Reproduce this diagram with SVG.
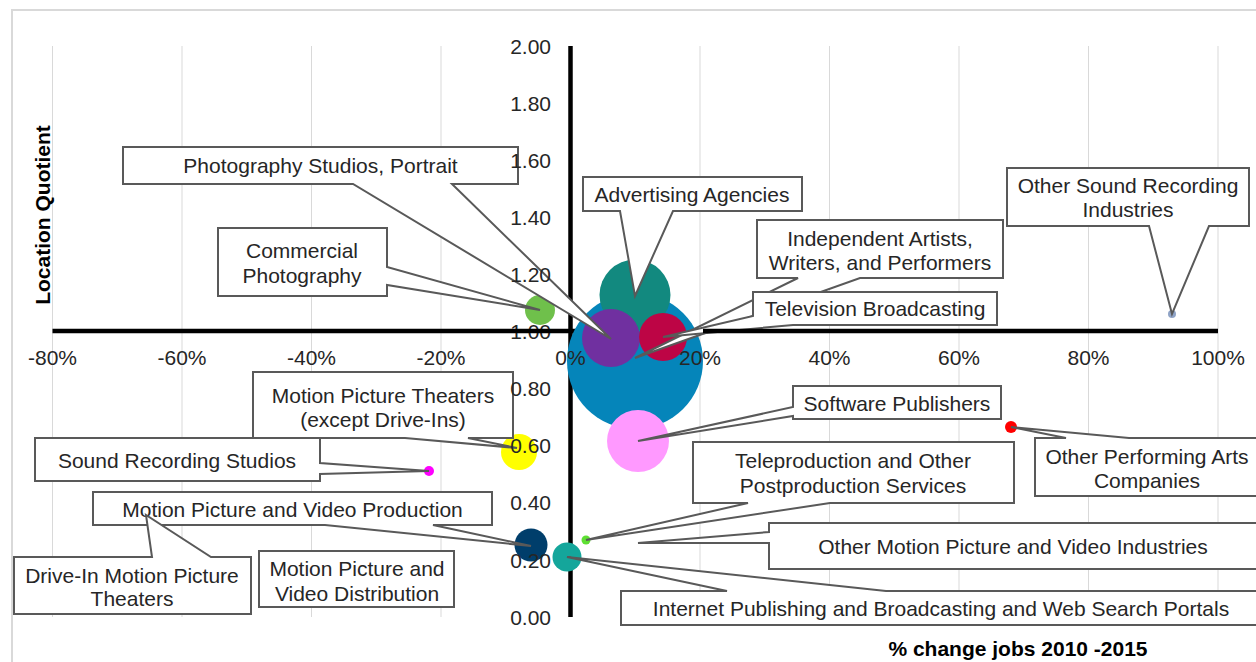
<svg xmlns="http://www.w3.org/2000/svg" width="1256" height="662" viewBox="0 0 1256 662">
  <style>
    text { font-family: "Liberation Sans", Arial, sans-serif; font-size: 21px; fill: #262626; }
    .tick-y { text-anchor: end; }
    .tick-x { text-anchor: middle; }
    .title { font-weight: bold; text-anchor: middle; fill: #000; }
    .grid { stroke: #d9d9d9; stroke-width: 1; }
    .axis { stroke: #000; stroke-width: 4.5; }
    .callout polygon { fill: #fff; stroke: #595959; stroke-width: 2; stroke-linejoin: miter; }
    .callout text { text-anchor: middle; }
  </style>

  <!-- chart area -->
  <rect x="0" y="0" width="1256" height="662" fill="#fff"/>
  <rect x="12" y="10" width="1260" height="670" fill="#fff" stroke="#d9d9d9" stroke-width="2"/>

  <!-- vertical gridlines, every 20% -->
  <g id="gridlines">
    <line class="grid" x1="52.5" y1="46" x2="52.5" y2="617"/>
    <line class="grid" x1="182" y1="46" x2="182" y2="617"/>
    <line class="grid" x1="311.5" y1="46" x2="311.5" y2="617"/>
    <line class="grid" x1="441" y1="46" x2="441" y2="617"/>
    <line class="grid" x1="700" y1="46" x2="700" y2="617"/>
    <line class="grid" x1="829.5" y1="46" x2="829.5" y2="617"/>
    <line class="grid" x1="959" y1="46" x2="959" y2="617"/>
    <line class="grid" x1="1088.5" y1="46" x2="1088.5" y2="617"/>
    <line class="grid" x1="1218" y1="46" x2="1218" y2="617"/>
  </g>

  <!-- axes crossing at 0% / 1.00; the middle stretch of the x axis sits under the bubble cluster -->
  <g id="axes-under">
    <line class="axis" x1="570.5" y1="46" x2="570.5" y2="617"/>
    <line class="axis" x1="567" y1="331" x2="703" y2="331"/>
  </g>

  <!-- bubbles -->
  <g id="bubbles">
    <circle id="b-other-sound" cx="1172" cy="314" r="4" fill="#8fa3c6"/>
    <circle id="b-blue" cx="635" cy="361" r="68" fill="#0585ba"/>
    <circle id="b-advertising" cx="635" cy="295" r="35.5" fill="#12897f"/>
    <circle id="b-photo-portrait" cx="611" cy="338" r="29" fill="#7030a0"/>
    <circle id="b-tv" cx="663" cy="337" r="24" fill="#bd0545"/>
    <circle id="b-commercial" cx="540" cy="310" r="15" fill="#6fc04b"/>
    <circle id="b-software" cx="638" cy="441" r="31" fill="#ff99ff"/>
    <circle id="b-theaters" cx="519" cy="452" r="18" fill="#ffff00"/>
    <circle id="b-sound-studios" cx="429" cy="471" r="5" fill="#ff00ff"/>
    <circle id="b-production" cx="531" cy="545" r="16.5" fill="#003e6b"/>
    <circle id="b-internet" cx="567" cy="557" r="14.5" fill="#14a69b"/>
    <circle id="b-teleproduction" cx="586" cy="540" r="4.5" fill="#5ee033"/>
    <circle id="b-performing" cx="1011" cy="427" r="6" fill="#ff0000"/>
  </g>

  <g id="x-ticks">
    <text class="tick-x" x="52.5" y="364.5">-80%</text>
    <text class="tick-x" x="182" y="364.5">-60%</text>
    <text class="tick-x" x="311.5" y="364.5">-40%</text>
    <text class="tick-x" x="441" y="364.5">-20%</text>
    <text class="tick-x" x="570.5" y="364.5">0%</text>
    <text class="tick-x" x="700" y="364.5">20%</text>
    <text class="tick-x" x="829.5" y="364.5">40%</text>
    <text class="tick-x" x="959" y="364.5">60%</text>
    <text class="tick-x" x="1088.5" y="364.5">80%</text>
    <text class="tick-x" x="1218" y="364.5">100%</text>
  </g>

  <!-- axis titles -->
  <text class="title" x="1018" y="655.5">% change jobs 2010 -2015</text>
  <text class="title" transform="translate(49.5,215) rotate(-90)" x="0" y="0">Location Quotient</text>

  <!-- data callouts -->
  <g id="callouts">
    <g id="c-photo-portrait" class="callout">
      <polygon points="123,147 518,147 518,184 452,184 611,339 353,184 123,184"/>
      <text x="320.5" y="173">Photography Studios, Portrait</text>
    </g>
    <g id="c-commercial" class="callout">
      <polygon points="218,228 387,228 387,267 540,310 387,285 387,296 218,296"/>
      <text x="302" y="257.5">Commercial</text>
      <text x="302" y="282.5">Photography</text>
    </g>
    <g id="c-advertising" class="callout">
      <polygon points="583,177 802,177 802,211 673,211 635,296 620,211 583,211"/>
      <text x="692" y="201.5">Advertising Agencies</text>
    </g>
    <g id="c-independent" class="callout">
      <polygon points="757,220 1003,220 1003,278 860,278 635,358 798,278 757,278"/>
      <text x="880" y="245.5">Independent Artists,</text>
      <text x="880" y="269.5">Writers, and Performers</text>
    </g>
    <g id="c-tv" class="callout">
      <polygon points="753,292 997,292 997,325 793,325 663,337 753,316"/>
      <text x="875" y="315.5">Television Broadcasting</text>
    </g>
    <g id="c-other-sound" class="callout">
      <polygon points="1007,168 1249,168 1249,226 1209,226 1172,314 1149,226 1007,226"/>
      <text x="1128" y="192.5">Other Sound Recording</text>
      <text x="1128" y="216.5">Industries</text>
    </g>
    <g id="c-theaters" class="callout">
      <polygon points="253,372 513,372 513,438 468,438 517,448 405,438 253,438"/>
      <text x="383" y="402.5">Motion Picture Theaters</text>
      <text x="383" y="426.5">(except Drive-Ins)</text>
    </g>
    <g id="c-sound-studios" class="callout">
      <polygon points="35,438 320,438 320,463 429,471 320,474 320,481 35,481"/>
      <text x="177" y="467.5">Sound Recording Studios</text>
    </g>
    <g id="c-production" class="callout">
      <polygon points="93,492 492,492 492,525 433,525 531,546 325,525 93,525"/>
      <text x="292.5" y="516.5">Motion Picture and Video Production</text>
    </g>
    <g id="c-distribution" class="callout">
      <polygon points="259,551 454,551 454,607 259,607"/>
      <text x="357" y="575.5">Motion Picture and</text>
      <text x="357" y="600.5">Video Distribution</text>
    </g>
    <g id="c-drive-in" class="callout">
      <polygon points="14,557 152,557 146,515 211,557 251,557 251,614 14,614"/>
      <text x="132" y="582.5">Drive-In Motion Picture</text>
      <text x="132" y="605.5">Theaters</text>
    </g>
    <g id="c-software" class="callout">
      <polygon points="793,386 1001,386 1001,419 793,419 793,416 638,441 793,407"/>
      <text x="897" y="410.5">Software Publishers</text>
    </g>
    <g id="c-teleproduction" class="callout">
      <polygon points="693,442 1014,442 1014,503 830,503 586,540 748,503 693,503"/>
      <text x="853" y="467.5">Teleproduction and Other</text>
      <text x="853" y="492.5">Postproduction Services</text>
    </g>
    <g id="c-other-motion" class="callout">
      <polygon points="769,523 1262,523 1262,569 769,569 769,543 638,543 769,532"/>
      <text x="1013" y="553.5">Other Motion Picture and Video Industries</text>
    </g>
    <g id="c-internet" class="callout">
      <polygon points="621,591 727,591 567,557 886,591 1262,591 1262,625 621,625"/>
      <text x="941" y="615.5">Internet Publishing and Broadcasting and Web Search Portals</text>
    </g>
    <g id="c-performing" class="callout">
      <polygon points="1035,438 1066,438 1011,427 1129,438 1262,438 1262,496 1035,496"/>
      <text x="1147" y="463.5">Other Performing Arts</text>
      <text x="1147" y="487.5">Companies</text>
    </g>
  </g>

  <!-- value axis labels sit above the callouts -->
  <g id="y-ticks">
    <text class="tick-y" x="551" y="53.5">2.00</text>
    <text class="tick-y" x="551" y="110.5">1.80</text>
    <text class="tick-y" x="551" y="167.5">1.60</text>
    <text class="tick-y" x="551" y="224.5">1.40</text>
    <text class="tick-y" x="551" y="281.5">1.20</text>
    <text class="tick-y" x="551" y="339">1.00</text>
    <text class="tick-y" x="551" y="396">0.80</text>
    <text class="tick-y" x="551" y="453">0.60</text>
    <text class="tick-y" x="551" y="510">0.40</text>
    <text class="tick-y" x="551" y="567.5">0.20</text>
    <text class="tick-y" x="551" y="624.5">0.00</text>
  </g>

  <!-- outer stretches of the x axis, drawn across the 1.00 label -->
  <g id="axes-over">
    <line class="axis" x1="52.5" y1="331" x2="567" y2="331"/>
    <line class="axis" x1="703" y1="331" x2="1218" y2="331"/>
  </g>
</svg>
